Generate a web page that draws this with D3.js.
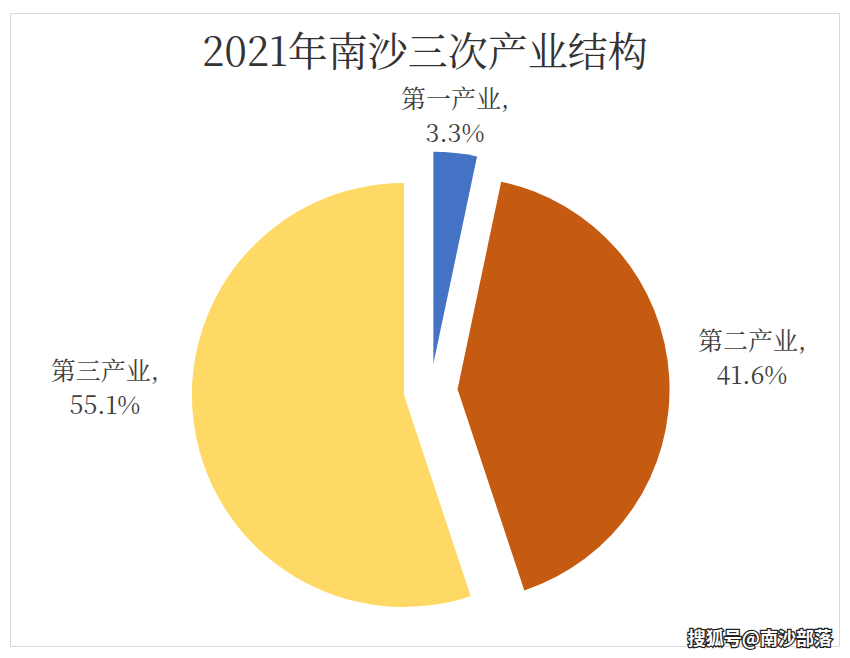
<!DOCTYPE html>
<html>
<head>
<meta charset="utf-8">
<script src="https://cdn.jsdelivr.net/npm/d3@7/dist/d3.min.js"></script>
<style>
  body { margin: 0; background: #fff; }
  svg { display: block; }
</style>
</head>
<body>
<svg class="svgWrapper" width="850" height="658"></svg>
<script>
// data
const categories = ['第一产业', '第二产业', '第三产业'];
const shares = [3.3, 41.6, 55.1];
const colors = ['#4472C4', '#C55A11', '#FFD966'];
const titleText = '2021年南沙三次产业结构';

// layout
const cx = 430.6, cy = 390.7;
const radius = 212;
const explode = 27;
const labelRadius = 300;
// Excel "best fit" label nudges (relative to bisector point)
const labelNudge = [[-6.6, 20.3], [21.9, -18.4], [-29.5, -53.1]];

const serif = '"Noto Serif CJK SC", "Liberation Serif", "Noto Sans CJK SC", serif';

const svgObj = d3.select('.svgWrapper');

// chart border
svgObj.append('rect')
  .attr('x', 10.5).attr('y', 13.5)
  .attr('width', 829).attr('height', 633)
  .attr('fill', '#fff')
  .attr('stroke', '#d9d9d9')
  .attr('stroke-width', 1);

// title
svgObj.append('text')
  .attr('x', 425).attr('y', 66)
  .attr('text-anchor', 'middle')
  .style('font-family', serif)
  .style('font-size', '40px')
  .attr('fill', '#333')
  .text(titleText);

const pieGen = d3.pie().sort(null).value(d => d.v);
const arcGen = d3.arc().innerRadius(0).outerRadius(radius);

const slices = pieGen(shares.map((v, i) => ({ v, name: categories[i], color: colors[i] })));

const g = svgObj.append('g').attr('transform', `translate(${cx},${cy})`);

const mid = d => (d.startAngle + d.endAngle) / 2;

g.selectAll('path')
  .data(slices)
  .enter().append('path')
  .attr('d', arcGen)
  .attr('fill', d => d.data.color)
  .attr('transform', d => `translate(${explode * Math.sin(mid(d))},${-explode * Math.cos(mid(d))})`);

// labels
const labels = g.selectAll('text.lbl')
  .data(slices)
  .enter().append('text')
  .attr('class', 'lbl')
  .attr('text-anchor', 'middle')
  .style('font-family', serif)
  .style('font-size', '25px')
  .attr('fill', '#404040')
  .attr('transform', (d, i) => {
    const a = mid(d);
    const x = labelRadius * Math.sin(a) + labelNudge[i][0];
    const y = -labelRadius * Math.cos(a) + labelNudge[i][1];
    return `translate(${x},${y})`;
  });

labels.append('tspan')
  .attr('x', 0).attr('dy', '-0.2em')
  .text(d => d.data.name + ',');
labels.append('tspan')
  .attr('x', 0).attr('dy', '1.36em')
  .text(d => d3.format('.1f')(d.data.v) + '%');

// watermark
svgObj.append('text')
  .attr('x', 832).attr('y', 645)
  .attr('text-anchor', 'end')
  .style('font-family', '"Noto Sans CJK SC", sans-serif')
  .style('font-size', '18px')
  .style('font-weight', 'bold')
  .attr('fill', '#fff')
  .attr('stroke', '#222')
  .attr('stroke-width', 2.5)
  .attr('paint-order', 'stroke')
  .text('搜狐号@南沙部落');
</script>
</body>
</html>
